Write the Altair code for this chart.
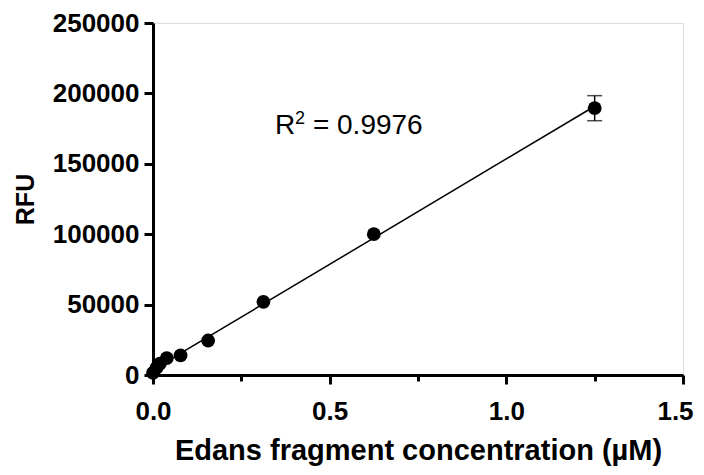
import altair as alt
import pandas as pd

conc = [0.0, 0.0098, 0.0195, 0.039, 0.078, 0.156, 0.3125, 0.625, 1.25]
rfu = [1500, 5000, 8000, 12000, 14000, 24500, 52000, 100000, 189500]
err = [0, 0, 0, 0, 0, 0, 0, 0, 8900]

df = pd.DataFrame({"conc": conc, "rfu": rfu, "err": err})
df["lo"] = df["rfu"] - df["err"]
df["hi"] = df["rfu"] + df["err"]

x_ticks = [0.0, 0.5, 1.0, 1.5]
x_last = [1.5]
x_minor = [0.25, 0.75, 1.25]
y_ticks = [0, 50000, 100000, 150000, 200000, 250000]

FONT = "Liberation Sans"

xscale = alt.Scale(domain=[0, 1.5], nice=False, zero=False)
yscale = alt.Scale(domain=[0, 250000], nice=False)

xaxis = alt.Axis(values=x_ticks, format=".1f", title="Edans fragment concentration (µM)", orient="bottom",
                 labelExpr="datum.value >= 1.5 ? '' : format(datum.value, '.1f')",
                 labelFont=FONT, labelFontSize=26, labelFontWeight="bold", labelColor="black",
                 titleFont=FONT, titleFontSize=29, titleFontWeight="bold", titleColor="black",
                 titlePadding=12, labelPadding=14,
                 domainColor="black", domainWidth=3, tickColor="black", tickWidth=3, tickSize=9,
                 grid=False, labelFlush=False)
yaxis = alt.Axis(values=y_ticks, format="d", title="RFU",
                 labelFont=FONT, labelFontSize=26, labelFontWeight="bold", labelColor="black",
                 titleFont=FONT, titleFontSize=25, titleFontWeight="bold", titleColor="black",
                 titlePadding=14, labelPadding=5,
                 domainColor="black", domainWidth=3, tickColor="black", tickWidth=3, tickSize=9,
                 grid=False, labelFlush=False)

base = alt.Chart(df)

fit = base.transform_regression("conc", "rfu", extent=[0, 1.25]).mark_line(
    color="black", strokeWidth=1.5
).encode(x=alt.X("conc:Q", scale=xscale, axis=xaxis), y=alt.Y("rfu:Q", scale=yscale, axis=yaxis))

minor = base.mark_point(opacity=0).encode(
    x=alt.X("conc:Q", scale=xscale,
            axis=alt.Axis(values=x_minor, labels=False, title=None, domain=False, orient="bottom",
                          tickColor="black", tickWidth=3, tickSize=6, grid=False)),
    y=alt.Y("rfu:Q", scale=yscale, axis=None)
)

last_lab = base.mark_point(opacity=0).encode(
    x=alt.X("conc:Q", scale=xscale,
            axis=alt.Axis(values=x_last, format=".1f", title=None, domain=False, ticks=False,
                          orient="bottom", labelOffset=-8, labelPadding=23, labelFlush=False,
                          labelFont=FONT, labelFontSize=26, labelFontWeight="bold",
                          labelColor="black", grid=False)),
    y=alt.Y("rfu:Q", scale=yscale, axis=None)
)

errbars = base.transform_filter("datum.err > 0").mark_errorbar(
    color="black", thickness=1.5, ticks={"size": 15, "thickness": 1.5, "color": "black"}
).encode(x=alt.X("conc:Q", scale=xscale, axis=None),
         y=alt.Y("lo:Q", scale=yscale, axis=None), y2="hi:Q")

points = base.mark_circle(size=190, color="black", opacity=1).encode(
    x=alt.X("conc:Q", scale=xscale, axis=None), y=alt.Y("rfu:Q", scale=yscale, axis=None)
)

label_df = pd.DataFrame({"x": [0.345], "y": [171400]})
lab = alt.Chart(label_df)
enc = dict(x=alt.X("x:Q", scale=xscale, axis=None), y=alt.Y("y:Q", scale=yscale, axis=None))
r_txt = lab.mark_text(text="R", align="left", baseline="alphabetic", font=FONT, fontSize=28,
                      color="black").encode(**enc)
sup_txt = lab.mark_text(text="2", align="left", baseline="alphabetic", font=FONT, fontSize=18,
                        color="black", dx=20, dy=-10).encode(**enc)
eq_txt = lab.mark_text(text="= 0.9976", align="left", baseline="alphabetic", font=FONT, fontSize=28,
                       color="black", dx=38).encode(**enc)

chart = alt.layer(fit, minor, last_lab, errbars, points, r_txt, sup_txt, eq_txt).resolve_axis(
    x="independent", y="independent").properties(
    width=530, height=352,
    autosize=alt.AutoSizeParams(type="none"),
    padding={"left": 145, "top": 15, "right": 12, "bottom": 92},
).configure_view(stroke=None).configure(background="white")

chart.save("out.html", embed_options={"renderer": "svg", "actions": False})
